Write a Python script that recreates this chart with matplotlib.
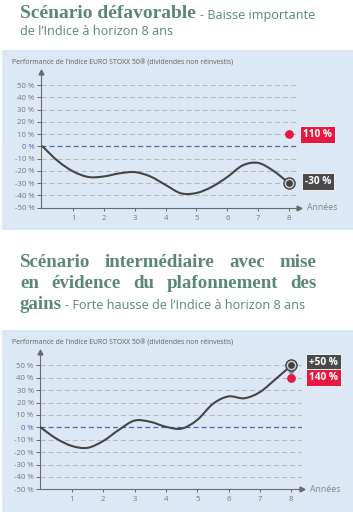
import matplotlib
matplotlib.use("Agg")
import matplotlib.pyplot as plt
from matplotlib.path import Path
from matplotlib.patches import PathPatch, Rectangle

plt.rcParams["lines.scale_dashes"] = False

# ---------------- data ----------------
years = [0, 0.5, 1, 1.5, 2, 2.5, 3, 3.5, 4, 4.5, 5, 5.5, 6, 6.5, 7, 7.5, 8]
perf_defav = [0, -12, -20.5, -25, -24.5, -22, -21, -24.5, -31.5, -38.3, -38, -33, -25, -15.5, -13.5, -20, -30]
perf_inter = [0, -9, -15, -16.5, -11, -2, 5.5, 4.5, 0.5, -1, 6, 19, 25, 23.5, 28.5, 39, 50]

yticks = [50, 40, 30, 20, 10, 0, -10, -20, -30, -40, -50]
ytick_labels = ["50 %", "40 %", "30 %", "20 %", "10 %", "0 %", "-10 %", "-20 %", "-30 %", "-40 %", "-50 %"]
xticks = [1, 2, 3, 4, 5, 6, 7, 8]
xtick_labels = ["1", "2", "3", "4", "5", "6", "7", "8"]

defav_product = 10
defav_product_label = "110 %"
defav_index_label = "-30 %"
inter_product = 40
inter_product_label = "140 %"
inter_index_label = "+50 %"

axis_title = "Performance de l\u2019indice EURO STOXX 50\u00ae (dividendes non r\u00e9investis)"

# ---------------- style ----------------
W, H = 353, 512
BG = "#dce9f5"
TEAL = "#5b867c"
GRID = "#b9b9b9"
ZERO = "#5a60b4"
AXC = "#6a6a6a"
LINE = "#454545"
RED = "#e8173f"
DARK = "#4a4a4a"
TXT = "#767676"
SANS = "Open Sans"
SERIF = "Liberation Serif"

fig = plt.figure(figsize=(W / 100, H / 100), dpi=100)
fig.patch.set_facecolor("white")


def fx(px):
    return px / W


def fy(py):
    return 1 - py / H


r = fig.canvas.get_renderer()


def width_of(t):
    return t.get_window_extent(r).width


def fit(t, target):
    t.set_fontsize(t.get_fontsize() * target / width_of(t))
    return t.get_fontsize()


# panel backgrounds
for (y0, y1) in [(50, 230), (330, 512)]:
    fig.patches.append(Rectangle((fx(2), fy(y1)), fx(353) - fx(2), fy(y0) - fy(y1),
                                 transform=fig.transFigure, facecolor=BG, edgecolor="none",
                                 zorder=-10))

# ---------------- titles ----------------
t = fig.text(fx(20), fy(18.5), "Sc\u00e9nario d\u00e9favorable", family=SERIF, weight="bold",
             color=TEAL, fontsize=12, va="baseline", ha="left")
serif_size = fit(t, 175)
t2 = fig.text(fx(20), fy(35), "de l\u2019Indice \u00e0 horizon 8 ans", family=SANS, color=TEAL,
              fontsize=9, va="baseline", ha="left")
sans_size = fit(t2, 153)
fig.text(fx(200), fy(18.5), "- Baisse importante", family=SANS, color=TEAL,
         fontsize=sans_size, va="baseline", ha="left")


def justify(words, x0, x1, py, size):
    ts = [fig.text(0, fy(py), w, family=SERIF, weight="bold", color=TEAL, fontsize=size,
                   va="baseline", ha="left") for w in words]
    ws = [width_of(tt) for tt in ts]
    gap = (x1 - x0 - sum(ws)) / (len(ws) - 1)
    x = x0
    for tt, w in zip(ts, ws):
        tt.set_x(fx(x))
        x += w + gap


bsize = serif_size * 0.97
justify(["Sc\u00e9nario", "interm\u00e9diaire", "avec", "mise"], 20, 316, 266.7, bsize)
justify(["en", "\u00e9vidence", "du", "plafonnement", "des"], 20, 316.5, 288.3, bsize)
g = fig.text(fx(20), fy(309), "gains", family=SERIF, weight="bold", color=TEAL,
             fontsize=bsize, va="baseline", ha="left")
gw = width_of(g)
fig.text(fx(20 + gw + 3), fy(309), "- Forte hausse de l\u2019Indice \u00e0 horizon 8 ans", family=SANS,
         color=TEAL, fontsize=sans_size, va="baseline", ha="left")


# ---------------- panels ----------------
def smooth_path(xs, ys):
    verts = [(xs[0], ys[0])]
    codes = [Path.MOVETO]
    n = len(xs)
    for i in range(n - 1):
        p0 = (xs[max(i - 1, 0)], ys[max(i - 1, 0)])
        p1 = (xs[i], ys[i])
        p2 = (xs[i + 1], ys[i + 1])
        p3 = (xs[min(i + 2, n - 1)], ys[min(i + 2, n - 1)])
        c1 = (p1[0] + (p2[0] - p0[0]) / 6, p1[1] + (p2[1] - p0[1]) / 6)
        c2 = (p2[0] - (p3[0] - p1[0]) / 6, p2[1] - (p3[1] - p1[1]) / 6)
        verts += [c1, c2, p2]
        codes += [Path.CURVE4] * 3
    return Path(verts, codes)


def panel(rect_px, xlim, ylim, perf, prod_val, prod_lbl, idx_lbl, idx_off, prod_off,
          title_py, arrow=False):
    l, b, rr, tp = rect_px
    ax = fig.add_axes([fx(l), fy(b), fx(rr) - fx(l), fy(tp) - fy(b)])
    ax.set_facecolor("none")
    ax.set_xlim(*xlim)
    ax.set_ylim(*ylim)
    for s in ["top", "right"]:
        ax.spines[s].set_visible(False)
    for s in ["left", "bottom"]:
        ax.spines[s].set_color(AXC)
        ax.spines[s].set_linewidth(0.8)
    for v in yticks:
        if v == 0:
            ax.axhline(0, color=ZERO, lw=0.9, ls=(0, (3.6, 2.2)), zorder=1)
        elif v != -50:
            ax.axhline(v, color=GRID, lw=0.8, ls=(0, (3.6, 2.2)), zorder=1)
    ax.set_yticks(yticks)
    ax.set_yticklabels(ytick_labels)
    ax.set_xticks(xticks)
    ax.set_xticklabels(xtick_labels)
    ax.tick_params(axis="y", length=3, width=0.7, color=AXC, pad=1.5, labelsize=5.6,
                   labelcolor=TXT)
    ax.tick_params(axis="x", length=2.5, width=0.7, color=AXC, pad=2.5, labelsize=5.6,
                   labelcolor=TXT)
    for lab in ax.get_yticklabels() + ax.get_xticklabels():
        lab.set_family(SANS)
    for lab, v in zip(ax.get_yticklabels(), yticks):
        if v == 0:
            lab.set_color(ZERO)
    # arrow heads
    ax.plot([xlim[0]], [ylim[1]], marker="^", ms=3.5, color=AXC, clip_on=False, zorder=5)
    ax.plot([xlim[1]], [ylim[0]], marker=">", ms=3.5, color=AXC, clip_on=False, zorder=5)
    ax.annotate("Ann\u00e9es", xy=(xlim[1], ylim[0]), xytext=(8, 0), textcoords="offset pixels",
                ha="left", va="center", fontsize=6.3, color="#858585", family=SANS,
                annotation_clip=False)
    # curve
    ax.add_patch(PathPatch(smooth_path(years, perf), fill=False, edgecolor=LINE, lw=1.5,
                           zorder=3, capstyle="round"))
    # markers
    ax.plot([years[-1]], [prod_val], "o", ms=5.3, color=RED, mec=RED, zorder=6, clip_on=False)
    if arrow:
        ax.plot([years[-1]], [(perf[-1] + prod_val) / 2 - 0.5], marker="v", ms=4.2,
                color="#7e9f90", zorder=5, clip_on=False)
    ax.plot([years[-1]], [perf[-1]], "o", ms=8, mfc="#cfcfcf", mec="#404040", mew=1.0,
            zorder=7, clip_on=False)
    ax.plot([years[-1]], [perf[-1]], "o", ms=3.8, color="#404040", zorder=8, clip_on=False)
    # labels
    bb = dict(boxstyle="square,pad=0.3", lw=0.7, ec="#f2f2f2")
    ax.annotate(idx_lbl, xy=(years[-1], perf[-1]), xytext=idx_off, textcoords="offset pixels",
                ha="center", va="center", color="white", fontsize=7.3, weight="bold",
                family=SANS, bbox=dict(bb, fc=DARK), annotation_clip=False, zorder=9)
    ax.annotate(prod_lbl, xy=(years[-1], prod_val), xytext=prod_off, textcoords="offset pixels",
                ha="center", va="center", color="white", fontsize=7.3, weight="bold",
                family=SANS, bbox=dict(bb, fc=RED), annotation_clip=False, zorder=9)
    # axis title
    tt = fig.text(fx(12), fy(title_py), axis_title, family=SANS, color="#5e5e5e", fontsize=5,
                  va="center", ha="left")
    fit(tt, 224)
    return ax


panel((40.7, 207.7, 299, 72), (-0.058, 8.328), (-50, 60.6), perf_defav,
      defav_product, defav_product_label, defav_index_label, (29, 2), (29, 0), 63.3)
panel((40, 489.3, 301.7, 351.7), (-0.016, 8.332), (-50, 61.1), perf_inter,
      inter_product, inter_product_label, inter_index_label, (32, 3), (32, 0), 342.7, arrow=True)

fig.savefig("out.png", dpi=100)
